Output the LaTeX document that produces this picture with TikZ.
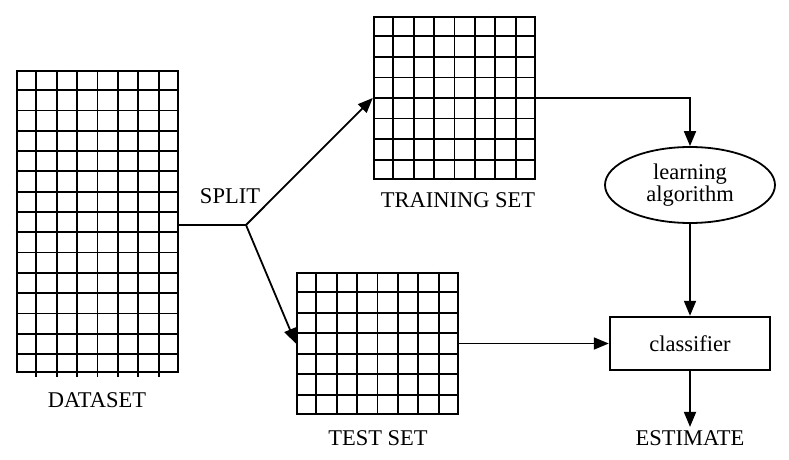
\documentclass[tikz,border=0pt]{standalone}
\usepackage{fontspec}
\setmainfont{Liberation Serif}
\usetikzlibrary{arrows.meta, calc, shapes.geometric}

\tikzset{
  gridframe/.style={draw, line width=2.4pt, inner sep=0pt},
  cellline/.style={line width=1.8pt},
  flow/.style={line width=1.8pt, -{Triangle[length=15pt,width=12pt]}},
}

\begin{document}
\begin{tikzpicture}[x=1pt, y=-1pt, every node/.style={font=\fontsize{22.5}{26}\selectfont}]
  \useasboundingbox (0,0) rectangle (789,460);
  % data tables
  \node[gridframe, minimum width=161pt, minimum height=301pt] (dataset) at (97.5,221.5) {};
  \node[gridframe, minimum width=161pt, minimum height=162pt] (train) at (454.5,98) {};
  \node[gridframe, minimum width=161pt, minimum height=141pt] (test) at (377.5,343.5) {};
  \foreach \i in {1,...,7} {
    \draw[cellline] ($(dataset.north west)!\i/8!(dataset.north east)$) -- ($(dataset.south west)!\i/8!(dataset.south east)+(0,4)$);
    \draw[cellline] ($(train.north west)!\i/8!(train.north east)$) -- ($(train.south west)!\i/8!(train.south east)$);
    \draw[cellline] ($(test.north west)!\i/8!(test.north east)$) -- ($(test.south west)!\i/8!(test.south east)$);
  }
  \foreach \j in {1,...,14}
    \draw[cellline] ($(dataset.north west)+(0,\j*20.3)$) -- ($(dataset.north east)+(0,\j*20.3)$);
  \foreach \j in {1,...,7}
    \draw[cellline] ($(train.north west)!\j/8!(train.south west)$) -- ($(train.north east)!\j/8!(train.south east)$);
  \foreach \j in {1,...,6}
    \draw[cellline] ($(test.north west)!\j/7!(test.south west)$) -- ($(test.north east)!\j/7!(test.south east)$);
  \node (datalabel) at (97,400) {DATASET};
  \node (trainlabel) at (458,200) {TRAINING SET};
  \node (testlabel) at (378,438) {TEST SET};
  \node (splitlabel) at (230,196) {SPLIT};
  % learner and classifier
  \node[draw, ellipse, line width=1.8pt, minimum width=170pt, minimum height=76pt, align=center, inner sep=0pt] (algo) at (690,185) {learning\\[-4pt]algorithm};
  \node[draw, line width=2.4pt, minimum width=160pt, minimum height=53pt] (clf) at (690,343.5) {classifier};
  \node (est) at (690,438) {ESTIMATE};
  % connectors
  \coordinate (split) at (246,225);
  \draw[line width=1.8pt] (dataset.east |- split) -- (split);
  \draw[flow] (split) -- (train.west);
  \draw[flow] (split) -- (test.west);
  \draw[flow] (train.east) -| (algo.north);
  \draw[flow] (algo.south) -- (clf.north);
  \draw[flow] (test.east) -- (clf.west);
  \draw[flow] (clf.south) -- (est.north);
\end{tikzpicture}
\end{document}
